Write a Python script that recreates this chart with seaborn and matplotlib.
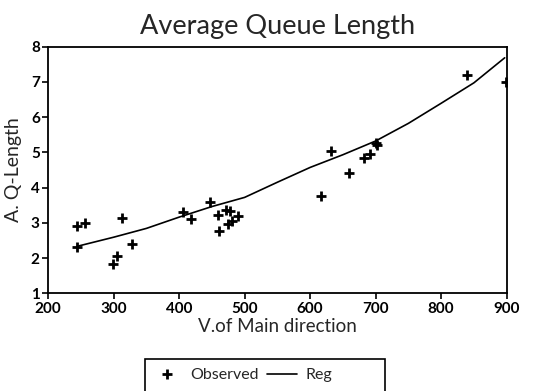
import matplotlib
matplotlib.use("Agg")
import matplotlib.pyplot as plt
from matplotlib.patches import Rectangle
import seaborn as sns
import pandas as pd

obs_x = [244, 244, 256, 312, 299, 305, 328, 406, 418, 447, 460, 461, 472, 477, 474, 481, 490,
         616, 632, 660, 682, 692, 700, 702, 839, 899]
obs_y = [2.31, 2.91, 2.99, 3.13, 1.83, 2.06, 2.40, 3.30, 3.10, 3.58, 3.22, 2.78, 3.35, 3.32, 2.97,
         3.06, 3.18, 3.76, 5.05, 4.41, 4.85, 4.95, 5.26, 5.21, 7.20, 6.98]
reg_x = [244, 300, 350, 400, 450, 500, 550, 600, 650, 700, 750, 800, 850, 897]
reg_y = [2.33, 2.59, 2.84, 3.16, 3.46, 3.72, 4.15, 4.57, 4.93, 5.32, 5.82, 6.39, 6.97, 7.68]

x_ticks = [200, 300, 400, 500, 600, 700, 800, 900]
y_ticks = [1, 2, 3, 4, 5, 6, 7, 8]

sns.set_theme(style="ticks")
plt.rcParams['font.family'] = ['Lato', 'DejaVu Sans']

obs = pd.DataFrame({"x": obs_x, "y": obs_y})
reg = pd.DataFrame({"x": reg_x, "y": reg_y})

fig = plt.figure(figsize=(5.35, 3.91), dpi=100)
ax = fig.add_axes([0.09, 0.25, 0.857, 0.631])

sns.lineplot(data=reg, x="x", y="y", ax=ax, color="black", linewidth=1.2, label="Reg")
ax.plot(obs["x"], obs["y"], linestyle="none", marker="+", markersize=7,
        markeredgewidth=2.0, color="black", label="Observed")

ax.set_xlim(200, 900)
ax.set_ylim(1, 8)
ax.set_xticks(x_ticks)
ax.set_yticks(y_ticks)
ax.tick_params(axis="both", direction="out", length=4, width=1.2, labelsize=11, colors="black", pad=2)
for lab in ax.get_xticklabels() + ax.get_yticklabels():
    lab.set_fontweight("bold")
for s in ax.spines.values():
    s.set_visible(True)
    s.set_linewidth(1.3)
    s.set_color("black")

ax.set_xlabel("V.of Main direction", fontsize=13.5, labelpad=2)
ax.set_ylabel("A. Q-Length", fontsize=14, labelpad=6)
ax.set_title("Average Queue Length", fontsize=19.5, pad=9)

ax.get_legend().remove()
handles, labels = ax.get_legend_handles_labels()
order = [labels.index("Observed"), labels.index("Reg")]

# legend frame (extends below the figure edge like the reference)
fig.patches.append(Rectangle((145 / 535, -0.05), 240 / 535, 0.05 + (391 - 359) / 391,
                             transform=fig.transFigure, fill=False, edgecolor="black",
                             linewidth=1.2))
leg = fig.legend([handles[i] for i in order], [labels[i] for i in order],
                 loc="center left", bbox_to_anchor=(152 / 535, 1 - 375 / 391), ncol=2,
                 frameon=False, fontsize=11.5,
                 borderpad=0, handlelength=1.9, columnspacing=0.5, handletextpad=0.5,
                 borderaxespad=0)

fig.savefig("out.png", dpi=100)
